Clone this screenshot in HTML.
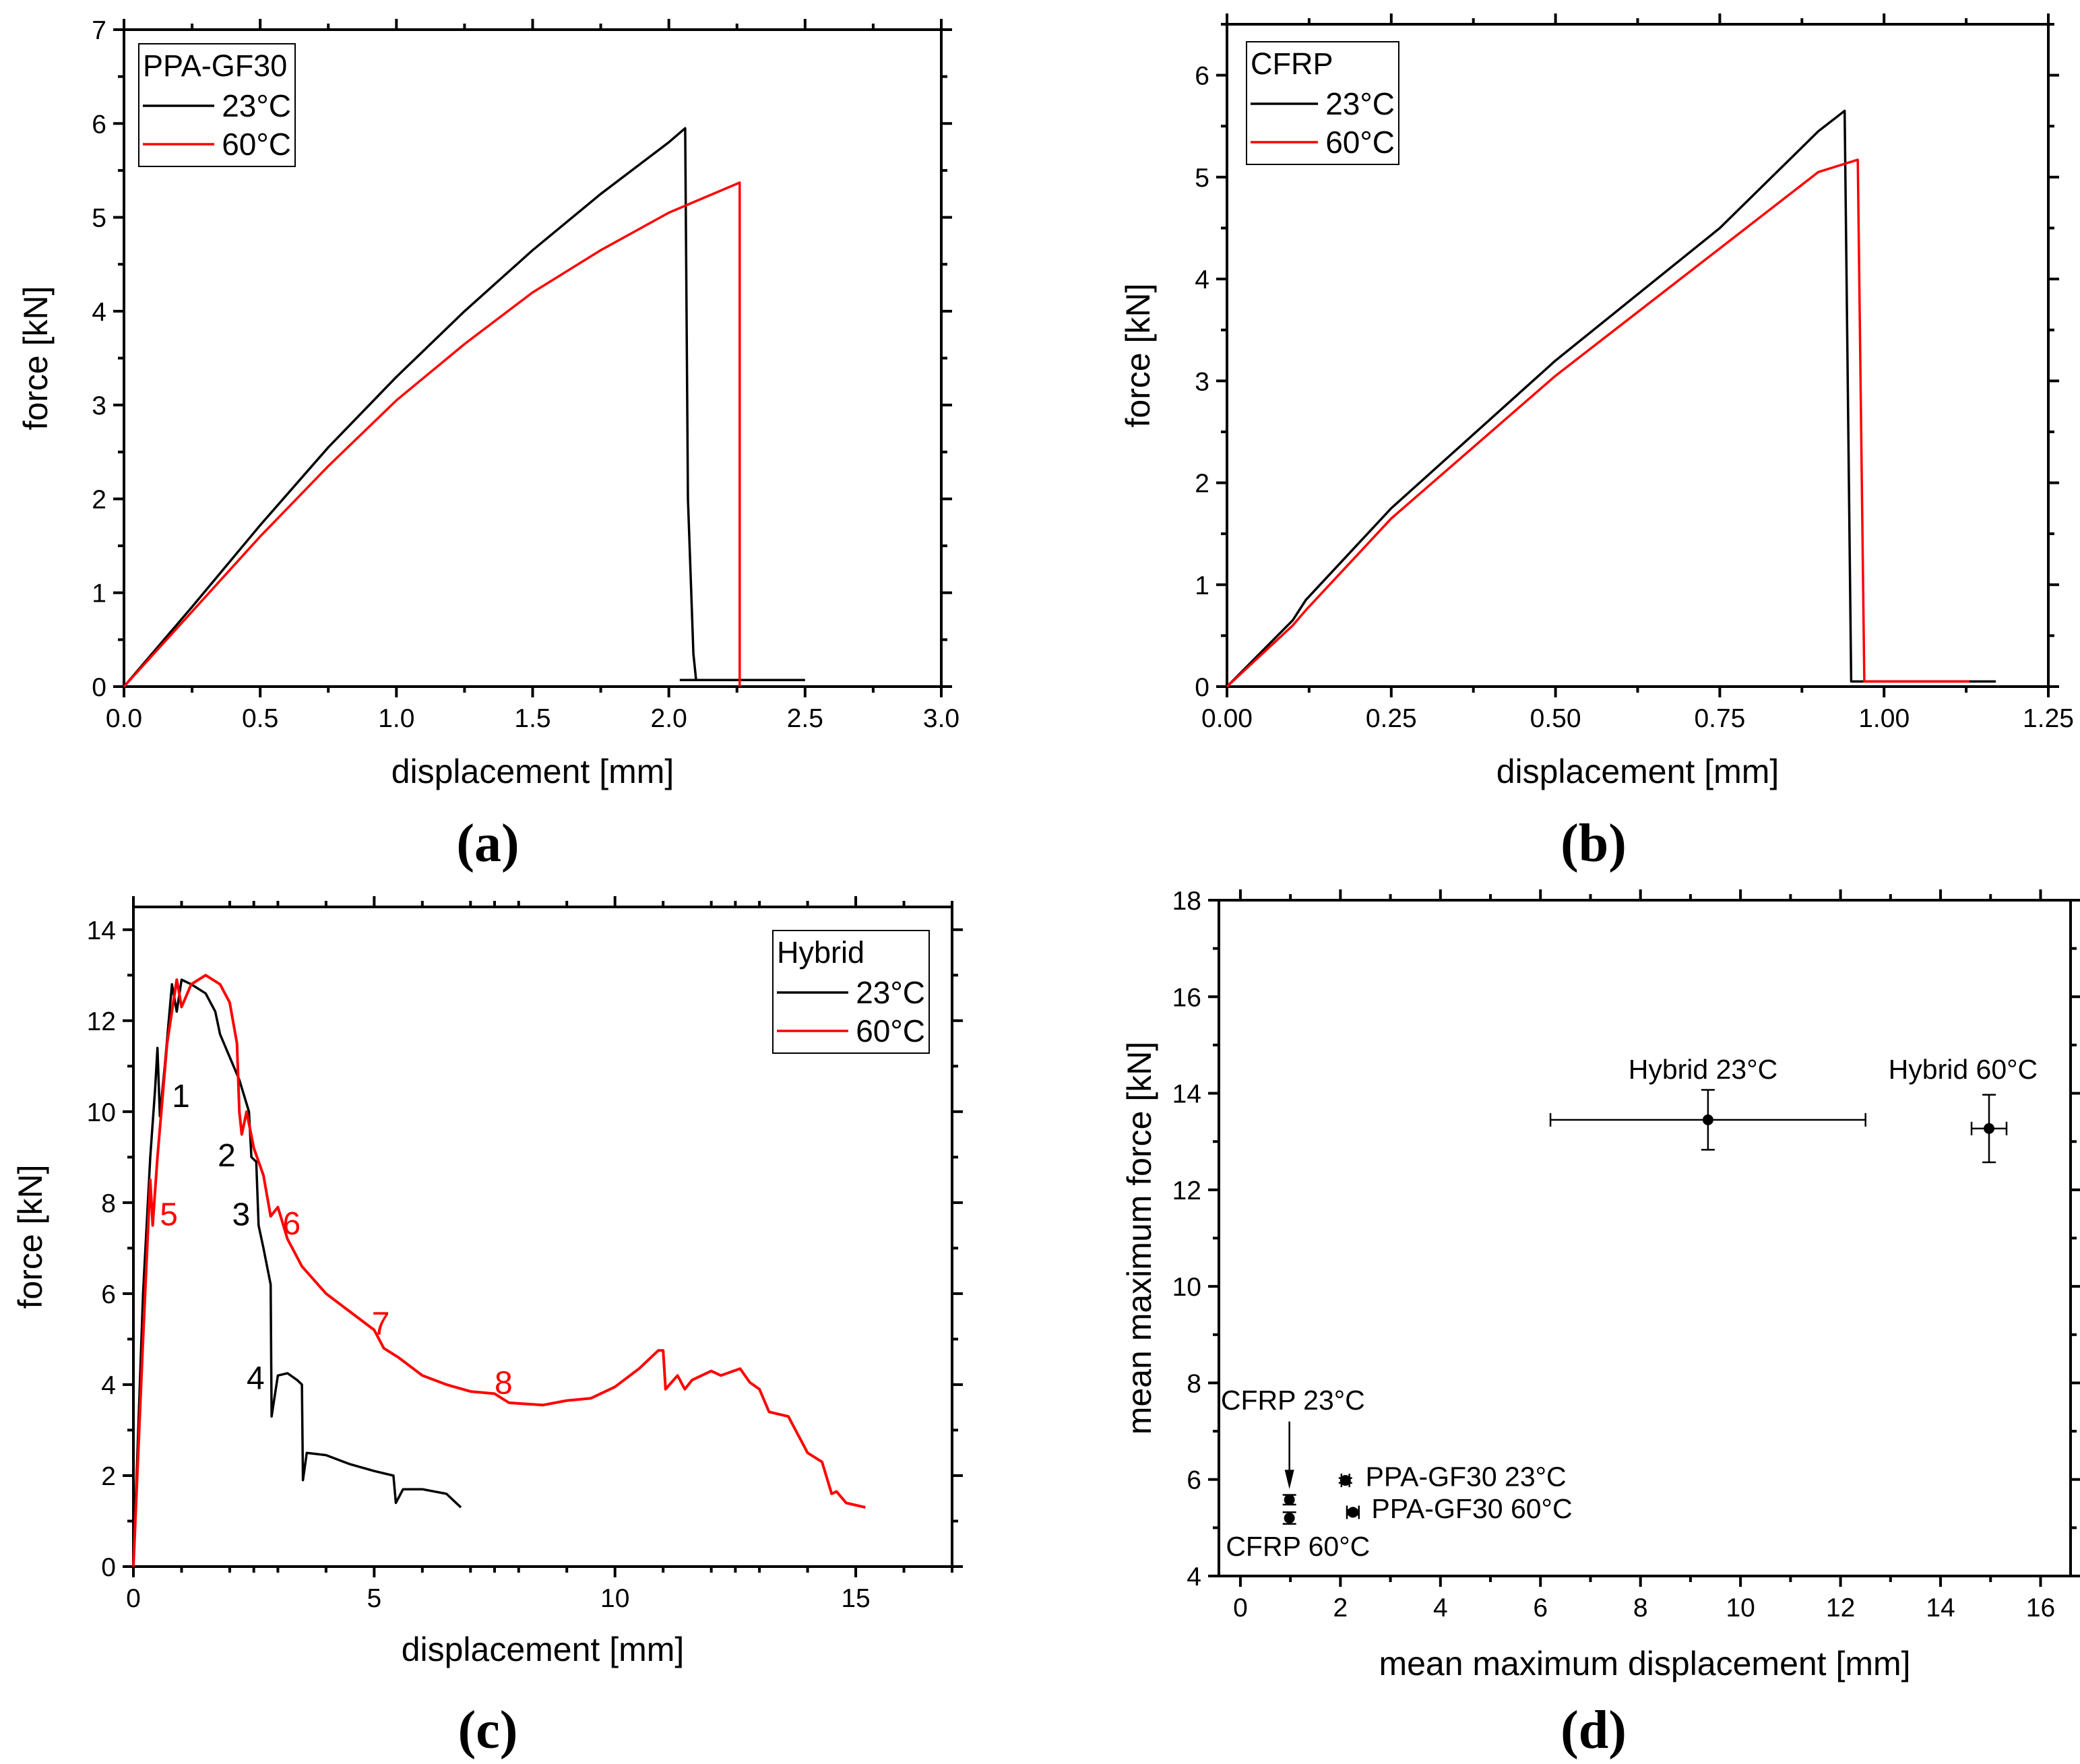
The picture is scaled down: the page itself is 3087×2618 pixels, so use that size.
<!DOCTYPE html>
<html><head><meta charset="utf-8">
<style>
html,body{margin:0;padding:0;background:#fff;}
svg{display:block;}
text{font-family:"Liberation Sans",sans-serif;}
.lt{font-family:"Liberation Serif",serif;font-weight:bold;}
</style></head>
<body>
<svg id="fig" width="3087" height="2618" viewBox="0 0 3087 2618" xmlns="http://www.w3.org/2000/svg"></svg>
<script>
// ---- data ----
const aBlackX=[0,0.25,0.5,0.75,1.0,1.25,1.5,1.75,2.0,2.06,2.07,2.09,2.1,2.5];
const aBlackY=[0,0.85,1.72,2.55,3.3,4.0,4.65,5.25,5.8,5.95,2.0,0.35,0.07,0.07];
const aRedX=[0,0.25,0.5,0.75,1.0,1.25,1.5,1.75,2.0,2.26,2.26];
const aRedY=[0,0.8,1.6,2.35,3.05,3.65,4.2,4.65,5.05,5.37,0];
const bBlackX=[0,0.1,0.12,0.25,0.5,0.75,0.9,0.94,0.95,1.17];
const bBlackY=[0,0.65,0.85,1.75,3.2,4.5,5.45,5.65,0.05,0.05];
const bRedX=[0,0.1,0.12,0.25,0.5,0.75,0.9,0.96,0.97,1.13];
const bRedY=[0,0.6,0.75,1.65,3.05,4.3,5.05,5.17,0.05,0.05];
const cBlackX=[0,0.2,0.35,0.45,0.5,0.55,0.65,0.8,0.9,1.0,1.2,1.5,1.7,1.8,2.0,2.2,2.4,2.45,2.55,2.6,2.7,2.85,2.87,3.0,3.2,3.4,3.5,3.52,3.6,4.0,4.5,5.0,5.4,5.45,5.6,6.0,6.5,6.8];
const cBlackY=[0,6,9,10.5,11.4,9.9,11,12.8,12.2,12.9,12.8,12.6,12.2,11.7,11.2,10.7,10.0,9.0,8.9,7.5,7.0,6.2,3.3,4.2,4.25,4.1,4.0,1.9,2.5,2.45,2.25,2.1,2.0,1.4,1.7,1.7,1.6,1.3];
const cRedX=[0,0.2,0.35,0.4,0.5,0.7,0.9,1.0,1.2,1.5,1.8,2.0,2.15,2.2,2.25,2.35,2.5,2.7,2.85,3.0,3.2,3.4,3.5,4.0,4.5,5.0,5.2,5.5,6.0,6.5,7.0,7.5,7.8,8.5,9.0,9.5,10.0,10.5,10.9,11.0,11.05,11.3,11.45,11.6,12.0,12.2,12.6,12.8,13.0,13.2,13.6,14.0,14.3,14.5,14.6,14.8,15.2];
const cRedY=[0,5,8.5,7.5,9,11.5,12.9,12.3,12.8,13.0,12.8,12.4,11.5,10.0,9.5,10,9.2,8.6,7.7,7.9,7.2,6.8,6.6,6.0,5.6,5.2,4.8,4.6,4.2,4.0,3.85,3.8,3.6,3.55,3.65,3.7,3.95,4.35,4.75,4.75,3.9,4.2,3.9,4.1,4.3,4.2,4.35,4.05,3.9,3.4,3.3,2.5,2.3,1.6,1.65,1.4,1.3];
const dNames=["hybrid-23","hybrid-60","cfrp-23","cfrp-60","ppa-23","ppa-60"];
const dX=[9.35,14.97,0.98,0.98,2.1,2.25];
const dY=[13.45,13.27,5.58,5.2,5.98,5.32];
const dXerr=[3.15,0.35,0,0,0.08,0.12];
const dYerr=[0.62,0.7,0.1,0.12,0.05,0.05];

const NS="http://www.w3.org/2000/svg";
const fig=document.getElementById('fig');
function el(tag,attrs,parent,txt){const e=document.createElementNS(NS,tag);for(const k in attrs)e.setAttribute(k,attrs[k]);if(txt!==undefined)e.textContent=txt;(parent||fig).appendChild(e);return e;}

function panel(o){
  const g=el('g',{});
  
  
  const sx=v=>o.x0+(v-o.xmin)/(o.xmax-o.xmin)*(o.x1-o.x0);
  const sy=v=>o.y0-(v-o.ymin)/(o.ymax-o.ymin)*(o.y0-o.y1);
  const fr=el('rect',{x:o.x0,y:o.y1,width:o.x1-o.x0,height:o.y0-o.y1,fill:'none',stroke:'#000','stroke-width':4},g);
  
  
  for(let i=0;i<o.xt.length;i++){const v=o.xt[i],x=sx(v);
    el('line',{x1:x,y1:o.y0,x2:x,y2:o.y0+16,stroke:'#000','stroke-width':4},g);
    el('line',{x1:x,y1:o.y1,x2:x,y2:o.y1-16,stroke:'#000','stroke-width':4},g);
    const t=el('text',{x:x,y:o.y0+60,'font-size':39,'text-anchor':'middle',fill:'#000'},g,o.xl[i]);
    
    
    if(i<o.xt.length-1){const m=sx((v+o.xt[i+1])/2);
      if(m<=o.x1){el('line',{x1:m,y1:o.y0,x2:m,y2:o.y0+9,stroke:'#000','stroke-width':4},g);
      el('line',{x1:m,y1:o.y1,x2:m,y2:o.y1-9,stroke:'#000','stroke-width':4},g);}}
  }
  if(o.xextra){const m=sx(o.xextra);el('line',{x1:m,y1:o.y0,x2:m,y2:o.y0+9,stroke:'#000','stroke-width':4},g);el('line',{x1:m,y1:o.y1,x2:m,y2:o.y1-9,stroke:'#000','stroke-width':4},g);}
  for(let i=0;i<o.yt.length;i++){const v=o.yt[i],y=sy(v);
    el('line',{x1:o.x0,y1:y,x2:o.x0-16,y2:y,stroke:'#000','stroke-width':4},g);
    el('line',{x1:o.x1,y1:y,x2:o.x1+16,y2:y,stroke:'#000','stroke-width':4},g);
    const t=el('text',{x:o.x0-26,y:y+14,'font-size':39,'text-anchor':'end',fill:'#000'},g,o.yl[i]);
    
    
    const nv=v+(o.yt[1]-o.yt[0])/2;
    if(nv<=o.ymax+1e-9){const m=sy(nv);el('line',{x1:o.x0,y1:m,x2:o.x0-9,y2:m,stroke:'#000','stroke-width':4},g);
      el('line',{x1:o.x1,y1:m,x2:o.x1+9,y2:m,stroke:'#000','stroke-width':4},g);}
  }
  const xt=el('text',{x:(o.x0+o.x1)/2,y:o.xty,'font-size':50,'text-anchor':'middle',fill:'#000'},g,o.xtitle);
  
  
  const yx=o.ytx, yy=(o.y0+o.y1)/2;
  const yt=el('text',{x:yx,y:yy,'font-size':50,'text-anchor':'middle',fill:'#000',transform:`rotate(-90 ${yx} ${yy})`},g,o.ytitle);
  
  
  const lt=el('text',{x:o.ltx,y:o.lty,'font-size':80,'text-anchor':'middle',class:'lt',fill:'#000'},g,o.letter);
  
  
  return {g,sx,sy};
}
function series(p,xs,ys,color,name,w){
  const d=xs.map((x,i)=>(i?'L':'M')+p.sx(x).toFixed(1)+' '+p.sy(ys[i]).toFixed(1)).join(' ');
  const e=el('path',{d:d,fill:'none',stroke:color,'stroke-width':w||3.5,'stroke-linejoin':'round'},p.g);
  
  
}
function legend(p,x,y,w,title){
  const g=el('g',{},p.g);
  
  
  el('rect',{x:x,y:y,width:w,height:182,fill:'#fff',stroke:'#000','stroke-width':2},g);
  el('text',{x:x+6,y:y+48,'font-size':45,fill:'#000'},g,title);
  el('line',{x1:x+6,y1:y+92,x2:x+w-120,y2:y+92,stroke:'#000','stroke-width':3.5},g);
  el('text',{x:x+w-6,y:y+108,'font-size':46,'text-anchor':'end',fill:'#000'},g,'23°C');
  el('line',{x1:x+6,y1:y+149,x2:x+w-120,y2:y+149,stroke:'#f00','stroke-width':3.5},g);
  el('text',{x:x+w-6,y:y+165,'font-size':46,'text-anchor':'end',fill:'#000'},g,'60°C');
}

// (a)
const pa=panel({name:'panel-a',x0:184,x1:1397,y0:1019,y1:44,xmin:0,xmax:3,ymin:0,ymax:7,
  xt:[0,0.5,1,1.5,2,2.5,3],xl:['0.0','0.5','1.0','1.5','2.0','2.5','3.0'],
  yt:[0,1,2,3,4,5,6,7],yl:['0','1','2','3','4','5','6','7'],xtitle:'displacement [mm]',ytitle:'force [kN]',xty:1162,ytx:70,ltx:724,lty:1278,letter:'(a)'});
series(pa,aBlackX,aBlackY,'#000','series-23c');
el('line',{x1:pa.sx(2.04),y1:pa.sy(0.07),x2:pa.sx(2.1),y2:pa.sy(0.07),stroke:'#000','stroke-width':3.5},pa.g);
series(pa,aRedX,aRedY,'#f00','series-60c');
legend(pa,206,65,232,'PPA-GF30');

// (b)
const pb=panel({name:'panel-b',x0:1821,x1:3040,y0:1019,y1:36,xmin:0,xmax:1.25,ymin:0,ymax:6.5,
  xt:[0,0.25,0.5,0.75,1,1.25],xl:['0.00','0.25','0.50','0.75','1.00','1.25'],
  yt:[0,1,2,3,4,5,6],yl:['0','1','2','3','4','5','6'],xtitle:'displacement [mm]',ytitle:'force [kN]',xty:1162,ytx:1706,ltx:2365,lty:1278,letter:'(b)'});
series(pb,bBlackX,bBlackY,'#000','series-23c');
series(pb,bRedX,bRedY,'#f00','series-60c');
legend(pb,1850,62,226,'CFRP');

// (c)
const pc=panel({name:'panel-c',x0:198,x1:1413,y0:2325,y1:1346,xmin:0,xmax:17,ymin:0,ymax:14.5,
  xt:[0,5,10,15],xl:['0','5','10','15'],xextra:17,
  yt:[0,2,4,6,8,10,12,14],yl:['0','2','4','6','8','10','12','14'],xtitle:'displacement [mm]',ytitle:'force [kN]',xty:2465,ytx:62,ltx:724,lty:2594,letter:'(c)'});
for(let v=1;v<17;v++){if(v%5===0)continue;const x=pc.sx(v);
  el('line',{x1:x,y1:2325,x2:x,y2:2334,stroke:'#000','stroke-width':4},pc.g);
  el('line',{x1:x,y1:1346,x2:x,y2:1337,stroke:'#000','stroke-width':4},pc.g);}
series(pc,cBlackX,cBlackY,'#000','series-23c');
series(pc,cRedX,cRedY,'#f00','series-60c',4);
legend(pc,1147,1381,232,'Hybrid');
const cl=[['1',0.8,10.1,'#000'],['2',1.75,8.8,'#000'],['3',2.05,7.5,'#000'],['4',2.35,3.9,'#000'],['5',0.55,7.5,'#f00'],['6',3.1,7.3,'#f00'],['7',4.95,5.1,'#f00'],['8',7.5,3.8,'#f00']];
cl.forEach(a=>{const t=el('text',{x:pc.sx(a[1]),y:pc.sy(a[2]),'font-size':48,fill:a[3],style:'fill:'+a[3]},pc.g,a[0]);
  
  });

// (d)
const pd=panel({name:'panel-d',x0:1809,x1:3073,y0:2339,y1:1336,xmin:-0.43,xmax:16.6,ymin:4,ymax:18,
  xt:[0,2,4,6,8,10,12,14,16],xl:['0','2','4','6','8','10','12','14','16'],
  yt:[4,6,8,10,12,14,16,18],yl:['4','6','8','10','12','14','16','18'],xtitle:'mean maximum displacement [mm]',ytitle:'mean maximum force [kN]',xty:2486,ytx:1708,ltx:2365,lty:2594,letter:'(d)'});
for(let i=0;i<dX.length;i++){
  const g=el('g',{},pd.g);
  
  
  const cx=pd.sx(dX[i]),cy=pd.sy(dY[i]);
  if(dXerr[i]>0){const a=pd.sx(dX[i]-dXerr[i]),b=pd.sx(dX[i]+dXerr[i]);
    el('line',{x1:a,y1:cy,x2:b,y2:cy,stroke:'#000','stroke-width':2.5},g);
    el('line',{x1:a,y1:cy-10,x2:a,y2:cy+10,stroke:'#000','stroke-width':2.5},g);
    el('line',{x1:b,y1:cy-10,x2:b,y2:cy+10,stroke:'#000','stroke-width':2.5},g);}
  if(dYerr[i]>0){const a=pd.sy(dY[i]-dYerr[i]),b=pd.sy(dY[i]+dYerr[i]);
    el('line',{x1:cx,y1:a,x2:cx,y2:b,stroke:'#000','stroke-width':2.5},g);
    el('line',{x1:cx-10,y1:a,x2:cx+10,y2:a,stroke:'#000','stroke-width':2.5},g);
    el('line',{x1:cx-10,y1:b,x2:cx+10,y2:b,stroke:'#000','stroke-width':2.5},g);}
  el('circle',{cx:cx,cy:cy,r:8,fill:'#000'},g);
}
const dl=[['Hybrid 23°C',9.25,14.3,'middle'],['Hybrid 60°C',14.45,14.3,'middle'],['CFRP 23°C',1.05,7.45,'middle'],['CFRP 60°C',1.15,4.42,'middle'],['PPA-GF30 23°C',2.5,5.86,'start'],['PPA-GF30 60°C',2.62,5.2,'start']];
dl.forEach(a=>{const t=el('text',{x:pd.sx(a[1]),y:pd.sy(a[2]),'font-size':41,'text-anchor':a[3],fill:'#000'},pd.g,a[0]);
  
  });
const ax=pd.sx(0.98);
const arr=el('g',{},pd.g);


el('line',{x1:ax,y1:pd.sy(7.2),x2:ax,y2:pd.sy(6.2),stroke:'#000','stroke-width':2.5},arr);
el('polygon',{points:`${ax-7},${pd.sy(6.2)} ${ax+7},${pd.sy(6.2)} ${ax},${pd.sy(5.8)}`,fill:'#000'},arr);
</script>
</body></html>
